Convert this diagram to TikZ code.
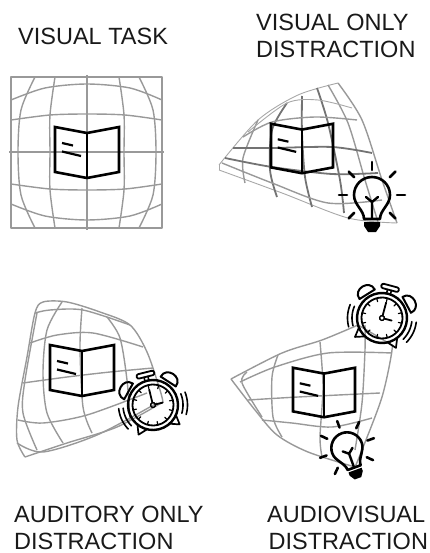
\documentclass[tikz,border=0pt]{standalone}
\usepackage{fontspec}
\setmainfont{Liberation Sans}
\usetikzlibrary{positioning}
\definecolor{gridgray}{gray}{0.6}
\tikzstyle{caption} = [anchor=west, align=left, inner sep=0pt, font=\fontsize{23.5}{27}\selectfont, text=black!90]
\tikzstyle{warp} = [draw=gridgray, line width=1.4pt, line join=round]
\tikzstyle{warpthin} = [draw=gridgray!85, line width=0.9pt, line join=round]
\tikzstyle{warpthick} = [draw=black!55, line width=1.8pt, line join=round]
\tikzstyle{icon} = [draw=black, line width=1.7pt, line cap=round, line join=round]
\tikzset{
  book/.pic={
    \draw[line width=2.6pt, line join=miter] (-32,-25) -- (0,-19) -- (32,-25) -- (32,20) -- (0,26) -- (-32,20) -- cycle;
    \draw[line width=2.6pt] (0,-19) -- (0,26);
    \draw[line width=2.2pt] (-25,-9) -- (-14,-6.5);
    \draw[line width=2.2pt] (-25,-0.5) -- (-6,4);
  },
  bulb/.pic={
    \draw[icon, line width=2.6pt] (-8,24) .. controls (-8,15) and (-18,10) .. (-18,0) .. controls (-18,-10) and (-10,-18) .. (0,-18) .. controls (10,-18) and (18,-10) .. (18,0) .. controls (18,10) and (8,15) .. (8,24) -- cycle;
    \draw[icon, line width=2.4pt] (0,23) -- (0,7) -- (-6,2) (0,7) -- (6,2);
    \fill[black] (-8,27) -- (8,27) -- (8,31) -- (4,37) -- (-4,37) -- (-8,31) -- cycle;
    \foreach \ang in {0,45,90,135,180,225,315}
      \draw[icon, line width=2.6pt, rotate=\ang] (25,0) -- (33,0);
  },
  clock/.pic={
    \draw[icon, line width=2.4pt] (0,0) circle[radius=25];
    \draw[icon, line width=1.8pt] (0,0) circle[radius=20.5];
    \foreach \ang in {0,30,...,330}
      \draw[icon, line width=1.2pt, rotate=\ang] (17,0) -- (20,0);
    \draw[icon, line width=1.4pt] (0,0) circle[radius=2.4];
    \draw[icon, line width=1.8pt] (0,-2.4) -- (0,-16);
    \draw[icon, line width=1.8pt] (2.4,0) -- (10,0);
    % asa y campanas
    \draw[icon, line width=1.8pt, rounded corners=2pt] (-9,-33.5) rectangle (9,-29);
    \draw[icon, line width=1.6pt] (-2,-29) -- (-2,-25) (2,-29) -- (2,-25);
    \foreach \ang in {47,-47}
      \draw[icon, line width=2pt, rotate=\ang] (-9,-28) .. controls (-10,-40) and (10,-40) .. (9,-28) -- cycle;
    \foreach \ang in {40,-40}
      \draw[icon, line width=1.7pt, rotate=\ang] (-5,25) -- (0,33) -- (5,25);
    % vibracion
    \foreach \rad in {30,34.5} {
      \draw[icon, line width=1.6pt] plot[domain=-30:8, samples=12] ({\rad*cos(\x)},{-\rad*sin(\x)});
      \draw[icon, line width=1.6pt] plot[domain=172:210, samples=12] ({\rad*cos(\x)},{-\rad*sin(\x)});
    }
  }
}
\begin{document}
\begin{tikzpicture}[x=1pt, y=-1pt]
    \useasboundingbox (0,0) rectangle (429,553);

    % --- Rotulos ---
    \node (tasklabel) [caption] at (18,36) {VISUAL TASK};
    \node (visuallabel) [caption] at (256,35.5) {VISUAL ONLY\\DISTRACTION};
    \node (auditorylabel) [caption] at (14,527.5) {AUDITORY ONLY\\DISTRACTION};
    \node (bothlabel) [caption] at (267,527.5) {AUDIOVISUAL\\\hspace*{1.5pt}DISTRACTION};

    % --- Tarea visual ---
    \draw[warp] (11,77) rectangle (162,228);
    \draw[warp] (87,75) -- (87,230);
    \draw[warp] (9,152) -- (164,152);
    \foreach \sgn in {-1,1} {
      \draw[warp] plot[smooth] coordinates {({87+\sgn*32},77) ({87+\sgn*37},115) ({87+\sgn*37},152) ({87+\sgn*37},190) ({87+\sgn*32},228)};
      \draw[warp] plot[smooth] coordinates {({87+\sgn*52},77) ({87+\sgn*66},110) ({87+\sgn*69},152) ({87+\sgn*66},195) ({87+\sgn*52},228)};
      \draw[warp] plot[smooth] coordinates {(11,{152+\sgn*32}) (50,{152+\sgn*37}) (87,{152+\sgn*38}) (125,{152+\sgn*37}) (162,{152+\sgn*32})};
      \draw[warp] plot[smooth] coordinates {(11,{152+\sgn*52}) (45,{152+\sgn*64}) (87,{152+\sgn*68}) (130,{152+\sgn*64}) (162,{152+\sgn*52})};
    }
    \pic at (87,152) {book};

    % --- Solo distraccion visual ---
    \draw[warpthin] plot[smooth] coordinates {(219,165) (258,120) (298,95) (338,83)};
    \draw[warp] plot[smooth] coordinates {(338,83) (362,120) (382,180) (397,223)};
    \draw[warpthin] plot[smooth] coordinates {(397,223) (348,218) (282,193) (219,170)};
    \draw[warpthin] (219,165) -- (219,170);
    \draw[warp] plot[smooth] coordinates {(258,120) (243,158) (245,183)};
    \draw[warpthick] plot[smooth] coordinates {(287,103) (272,130) (270,170) (277,197)};
    \draw[warpthick] plot[smooth] coordinates {(302,96) (302,133) (305,177) (312,207)};
    \draw[warpthick] plot[smooth] coordinates {(317,88) (328,123) (340,180) (344,213)};
    \draw[warp] plot[smooth] coordinates {(328,85) (348,123) (365,180) (378,222)};
    \draw[warpthin] plot[smooth] coordinates {(248,132) (287,103) (318,100) (352,108)};
    \draw[warp] plot[smooth] coordinates {(243,137) (272,122) (315,117) (357,120)};
    \draw[warpthick] plot[smooth] coordinates {(233,148) (272,148) (332,147) (372,153)};
    \draw[warpthick] plot[smooth] coordinates {(225,158) (272,167) (332,174) (378,173)};
    \draw[warp] plot[smooth] coordinates {(222,163) (272,183) (328,203) (382,200)};
    \pic[scale=0.97] at (302,148) {book};
    \pic at (372,195) {bulb};

    % --- Solo distraccion auditiva ---
    \draw[warp] plot[smooth] coordinates {(25,457) (17,440) (18,407) (27,357) (35,313) (43,302) (67,302) (100,312) (130,325) (147,352) (160,390) (163,402)};
    \draw[warp] plot[smooth] coordinates {(25,457) (67,443) (117,427) (163,402)};
    \draw[warp] plot[smooth] coordinates {(35,313) (50,310) (83,310) (130,325)};
    \draw[warp] plot[smooth] coordinates {(37,313) (25,380) (23,413) (37,450)};
    \draw[warp] plot[smooth] coordinates {(62,302) (47,330) (43,373) (47,413) (63,443)};
    \draw[warp] plot[smooth] coordinates {(82,308) (80,347) (83,407) (92,433)};
    \draw[warp] plot[smooth] coordinates {(107,317) (120,338) (127,380) (130,420)};
    \draw[warp] plot[smooth] coordinates {(30,343) (57,335) (93,333) (143,347)};
    \draw[warp] plot[smooth] coordinates {(23,383) (67,377) (110,372) (153,368)};
    \draw[warp] plot[smooth] coordinates {(18,420) (43,423) (87,415) (147,393)};
    \draw[warp] plot[smooth] coordinates {(17,443) (43,452) (97,435) (157,403)};
    \pic at (82,370) {book};
    \pic[rotate=14] at (153,405) {clock};

    % --- Distraccion audiovisual ---
    \draw[warp] plot[smooth] coordinates {(231,379) (282,353) (322,340) (358,325)};
    \draw[warp] plot[smooth] coordinates {(358,325) (388,343) (392,350) (382,397) (362,450) (355,467)};
    \draw[warp] plot[smooth] coordinates {(231,379) (255,410) (277,435) (308,452) (355,467)};
    \draw[warp] plot[smooth] coordinates {(247,372) (242,383) (262,417)};
    \draw[warp] plot[smooth] coordinates {(278,355) (272,377) (273,417) (282,437)};
    \draw[warp] plot[smooth] coordinates {(320,342) (323,387) (320,437) (322,457)};
    \draw[warp] plot[smooth] coordinates {(365,325) (365,350) (362,403) (355,450)};
    \draw[warp] plot[smooth] coordinates {(240,382) (275,367) (328,353) (392,353)};
    \draw[warp] plot[smooth] coordinates {(248,400) (298,397) (380,393)};
    \draw[warp] plot[smooth] coordinates {(262,420) (292,423) (332,427) (372,418)};
    \pic[scale=0.97] at (324,392) {book};
    \pic[rotate=-15] at (382,318) {clock};
    \pic[rotate=20, scale=0.87] at (347,448) {bulb};
\end{tikzpicture}
\end{document}
